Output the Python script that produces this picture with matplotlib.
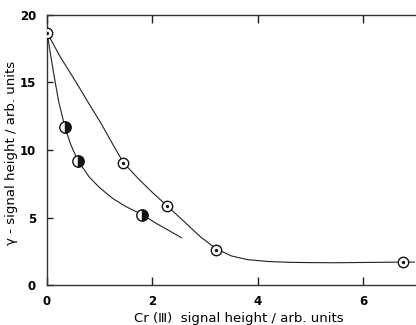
import matplotlib
matplotlib.use("Agg")
from matplotlib import pyplot as plt

# Measured points: open circles and half-filled circles
open_x = [0.0, 1.45, 2.28, 3.2, 6.74]
open_y = [18.7, 9.05, 5.85, 2.6, 1.7]

half_x = [0.34, 0.58, 1.81]
half_y = [11.7, 9.2, 5.2]

# Hand-drawn guide curves, read along their length
upper_x = [0.0, 0.25, 0.57, 0.8, 1.02, 1.25, 1.45, 1.75, 2.0, 2.28, 2.6, 2.9,
           3.2, 3.5, 3.8, 4.2, 4.6, 5.0, 5.5, 6.0, 6.5, 6.74, 6.98]
upper_y = [18.7, 16.9, 14.9, 13.4, 12.0, 10.4, 9.05, 7.8, 6.85, 5.85, 4.7, 3.6,
           2.7, 2.15, 1.88, 1.74, 1.68, 1.66, 1.65, 1.67, 1.69, 1.7, 1.7]

lower_x = [0.0, 0.07, 0.13, 0.22, 0.34, 0.45, 0.58, 0.8, 1.0, 1.25, 1.5, 1.81, 2.1, 2.35, 2.55]
lower_y = [18.7, 17.0, 15.6, 13.6, 11.7, 10.4, 9.25, 8.0, 7.2, 6.4, 5.8, 5.2, 4.5, 3.95, 3.5]

x_ticks = [0, 2, 4, 6]
y_ticks = [0, 5, 10, 15, 20]

fig = plt.figure(figsize=(4.16, 3.25), dpi=100)
ax = fig.add_axes([0.113, 0.123, 0.885, 0.831])

line_kw = dict(color='#222222', linewidth=0.8, zorder=1)
ax.plot(upper_x, upper_y, **line_kw)
ax.plot(lower_x, lower_y, **line_kw)

ax.plot(open_x, open_y, 'o', markersize=7.5, markerfacecolor='white',
        markeredgecolor='#111111', markeredgewidth=1.0, zorder=3)
ax.plot(open_x, open_y, 'o', markersize=1.4, color='#111111', zorder=4)

ax.plot(half_x, half_y, 'o', markersize=8.2, fillstyle='right',
        markerfacecolor='#111111', markerfacecoloralt='white',
        markeredgecolor='#111111', markeredgewidth=1.0, zorder=3)

ax.set_xlim(0, 6.98)
ax.set_ylim(0, 20)
ax.set_xticks(x_ticks)
ax.set_yticks(y_ticks)
ax.set_xticklabels([str(t) for t in x_ticks], fontweight='bold', fontsize=8.5)
ax.set_yticklabels([str(t) for t in y_ticks], fontweight='bold', fontsize=8.5)

ax.tick_params(axis='x', direction='in', length=6, width=1.0, top=True,
               pad=7, color='#222222')
ax.tick_params(axis='y', direction='in', length=4, width=1.0, pad=8,
               color='#222222')

ax.spines['right'].set_visible(False)
for side in ['left', 'bottom', 'top']:
    ax.spines[side].set_color('#333333')
    ax.spines[side].set_linewidth(1.0)

ax.set_xlabel('Cr (\u2162)  signal height / arb. units', fontsize=9.5)
ax.set_ylabel('\u03b3 - signal height / arb. units', fontsize=9.5)
ax.xaxis.set_label_coords(0.52, -0.1)
ax.yaxis.set_label_coords(-0.078, 0.49)

fig.savefig('out.png', dpi=100)
